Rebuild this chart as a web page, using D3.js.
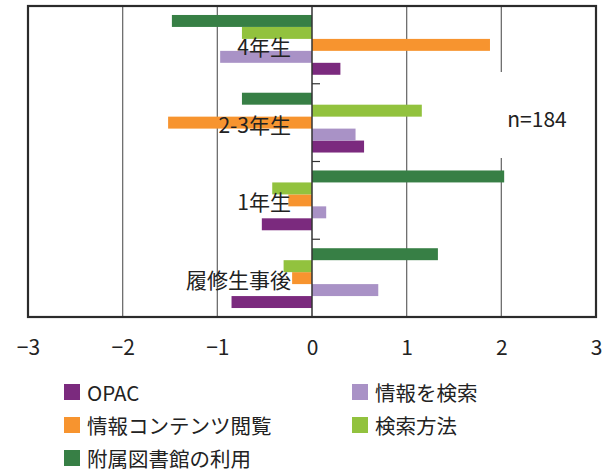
<!DOCTYPE html>
<html>
<head>
<meta charset="utf-8">
<script src="https://cdn.jsdelivr.net/npm/d3@7"></script>
<style>
  body { margin: 0; background: #fff; }
  text { font-family: "Noto Sans CJK JP", "Noto Sans", sans-serif; fill: #222; }
</style>
</head>
<body>
<svg id="chart" width="607" height="475"></svg>
<script>
// categories, top to bottom
var categories = ["4年生", "2-3年生", "1年生", "履修生事後"];
// series in legend order
var series = ["OPAC", "情報を検索", "情報コンテンツ閲覧", "検索方法", "附属図書館の利用"];
var colors = ["#7b2a7e", "#a992c6", "#f7942f", "#92c23e", "#377f45"];
// values per series, same order as categories
var opac      = [0.30, 0.55, -0.53, -0.85];
var jouhouKen = [-0.97, 0.46, 0.15, 0.70];
var contents  = [1.88, -1.52, -0.25, -0.21];
var kensaku   = [-0.74, 1.16, -0.42, -0.30];
var library   = [-1.48, -0.74, 2.03, 1.33];
var xTicks = [-3, -2, -1, 0, 1, 2, 3];
var note = "n=184";

var values = [opac, jouhouKen, contents, kensaku, library];

var svg = d3.select("#chart");
var plotL = 28, plotR = 596, plotT = 6, plotB = 317;

var x = d3.scaleLinear().domain([-3, 3]).range([plotL, plotR]);
var y = d3.scaleBand().domain(categories).range([plotT, plotB]).padding(0);
// bars inside each group: last series on top
var ySub = d3.scaleBand()
    .domain(series.slice().reverse())
    .range([0, y.bandwidth()])
    .paddingInner(0)
    .paddingOuter(0.75);

// gridlines
svg.append("g")
  .selectAll("line")
  .data(xTicks.filter(d => d != -3 && d != 3 && d != 0))
  .enter()
  .append("line")
  .attr("x1", d => x(d)).attr("x2", d => x(d))
  .attr("y1", plotT).attr("y2", plotB)
  .attr("stroke", "#6e6e6e")
  .attr("stroke-width", 1.3);

// bars
var rows = [];
series.forEach((s, i) => {
    categories.forEach((c, j) => {
        rows.push({ series: s, cat: c, value: values[i][j], color: colors[i] });
    });
});

svg.append("g")
  .selectAll("rect")
  .data(rows)
  .enter()
  .append("rect")
  .attr("x", d => x(Math.min(0, d.value)))
  .attr("width", d => Math.abs(x(d.value) - x(0)))
  .attr("y", d => y(d.cat) + ySub(d.series))
  .attr("height", ySub.bandwidth())
  .attr("fill", d => d.color);

// zero axis with category ticks
svg.append("line")
  .attr("x1", x(0)).attr("x2", x(0))
  .attr("y1", plotT).attr("y2", plotB)
  .attr("stroke", "#333").attr("stroke-width", 1.5);

svg.append("g")
  .selectAll("line")
  .data(categories.slice(1))
  .enter()
  .append("line")
  .attr("x1", x(0)).attr("x2", x(0) + 8)
  .attr("y1", d => y(d)).attr("y2", d => y(d))
  .attr("stroke", "#333").attr("stroke-width", 1.2);

// category labels
svg.append("g")
  .selectAll("text")
  .data(categories)
  .enter()
  .append("text")
  .attr("x", x(0) - 21)
  .attr("y", d => y(d) + y.bandwidth() / 2 + 1)
  .attr("text-anchor", "end")
  .attr("dominant-baseline", "central")
  .style("font-size", "21px")
  .text(d => d);

// note box
svg.append("rect")
  .attr("x", 494).attr("y", 72)
  .attr("width", 90).attr("height", 86)
  .attr("fill", "#fff");
svg.append("text")
  .attr("x", 537).attr("y", 118)
  .attr("text-anchor", "middle")
  .attr("dominant-baseline", "central")
  .style("font-size", "21px")
  .text(note);

// frame
svg.append("rect")
  .attr("x", plotL).attr("y", plotT)
  .attr("width", plotR - plotL).attr("height", plotB - plotT)
  .attr("fill", "none")
  .attr("stroke", "#2b2b2b")
  .attr("stroke-width", 2.2);

// x axis labels
var xAxis = d3.axisBottom(x)
  .tickValues(xTicks)
  .tickSize(0)
  .tickPadding(0)
  .tickFormat(d => d < 0 ? "\u2212" + Math.abs(d) : d);

var ax = svg.append("g")
  .attr("transform", `translate(0, 340)`)
  .call(xAxis);
ax.select(".domain").remove();
ax.selectAll("text")
  .attr("dy", "0.71em")
  .attr("fill", "#222")
  .style("font-size", "21px")
  .style("font-family", "'Noto Sans CJK JP', sans-serif");

// legend
var legend = svg.append("g")
  .selectAll("g")
  .data(series)
  .enter()
  .append("g")
  .attr("transform", (d, i) => `translate(${i % 2 == 0 ? 64 : 352}, ${384 + Math.floor(i / 2) * 33})`);

legend.append("rect")
  .attr("width", 16).attr("height", 16)
  .attr("fill", (d, i) => colors[i]);

legend.append("text")
  .attr("x", 23).attr("y", 8)
  .attr("dominant-baseline", "central")
  .style("font-size", "20.5px")
  .text(d => d);
</script>
</body>
</html>
